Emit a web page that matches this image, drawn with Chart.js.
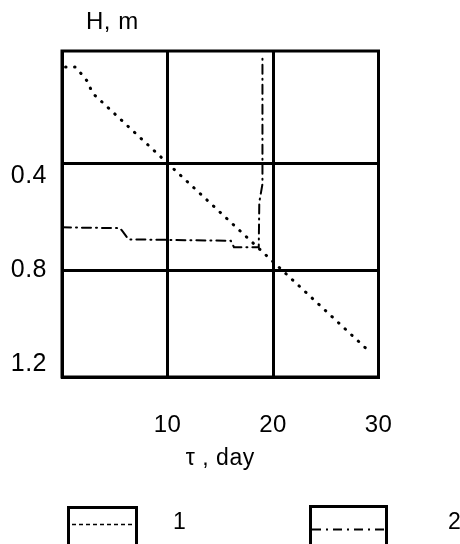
<!DOCTYPE html>
<html>
<head>
<meta charset="utf-8">
<script src="https://cdn.jsdelivr.net/npm/chart.js@4.4.1/dist/chart.umd.min.js"></script>
<style>
html,body{margin:0;padding:0;background:#fff;}
#wrap{position:relative;width:460px;height:544px;overflow:hidden;font-family:"Liberation Sans",Arial,sans-serif;color:#000;}
#c{position:absolute;left:0;top:0;}
.t{position:absolute;font-size:24px;line-height:24px;white-space:nowrap;letter-spacing:0.5px;}
.box{position:absolute;border:3px solid #000;border-bottom:none;height:60px;box-sizing:border-box;}
.box svg{position:absolute;left:0;top:0;}
</style>
</head>
<body>
<div id="wrap">
<canvas id="c" width="460" height="544"></canvas>
<div class="t" id="ytitle" style="left:86px;top:9px;">H, m</div>
<div class="box" style="left:67px;top:506px;width:71px;">
  <svg width="65" height="40"><line x1="2" y1="15.5" x2="64" y2="15.5" stroke="#000" stroke-width="1.6" stroke-dasharray="4 3"/></svg>
</div>
<div class="t" style="left:173px;top:509px;font-size:23px;">1</div>
<div class="box" style="left:309px;top:505px;width:79px;">
  <svg width="73" height="40"><line x1="0" y1="21.5" x2="73" y2="21.5" stroke="#000" stroke-width="2" stroke-dasharray="9 5 2 5"/></svg>
</div>
<div class="t" style="left:448px;top:509px;font-size:23px;">2</div>
</div>
<script>
// Series 1 (dotted): time (day) vs depth H (m)
const days1  = [0, 0.3, 1.3, 2.4, 2.9, 9.6, 19.5, 29.2];
const depth1 = [0.01, 0.04, 0.04, 0.093, 0.138, 0.385, 0.75, 1.107];
// Series 2 (dash-dot)
const days2  = [0, 5.5, 5.8, 6.3, 16.0, 16.3, 18.65, 18.7, 19.0, 19.0];
const depth2 = [0.64, 0.643, 0.658, 0.685, 0.69, 0.714, 0.714, 0.546, 0.478, 0.004];
// Tick labels
const xTicks = [10, 20, 30];
const yTicks = [0.4, 0.8, 1.2];
const seriesNames = ['1', '2'];

const toPts = (xs, ys) => xs.map((x, i) => ({x: x, y: ys[i]}));

const frame = {
  id: 'frame',
  beforeDraw(chart) {
    try { chart.ctx.letterSpacing = '0.5px'; } catch (e) {}
  },
  afterDraw(chart) {
    const {ctx, chartArea: a} = chart;
    ctx.save();
    ctx.strokeStyle = '#000';
    ctx.lineWidth = 3;
    ctx.strokeRect(a.left, a.top, a.right - a.left, a.bottom - a.top);
    ctx.restore();
  }
};

// y labels in the original sit below (0.4) / above (1.2) their grid lines
const yLabel = v => {
  const s = v.toFixed(1);
  if (v === yTicks[0]) return ['', s];
  if (v === yTicks[yTicks.length - 1]) return [s, ''];
  return s;
};

new Chart(document.getElementById('c'), {
  type: 'scatter',
  data: {
    datasets: [
      {label: seriesNames[0], data: toPts(days1, depth1), showLine: true,
       borderColor: '#000', borderWidth: 3, borderDash: [0.5, 8.5], borderCapStyle: 'round',
       pointRadius: 0, tension: 0, fill: false},
      {label: seriesNames[1], data: toPts(days2, depth2), showLine: true,
       borderColor: '#000', borderWidth: 2, borderDash: [9, 5, 1, 5], borderCapStyle: 'round',
       pointRadius: 0, tension: 0, fill: false}
    ]
  },
  options: {
    responsive: false,
    devicePixelRatio: 1,
    animation: false,
    layout: {padding: {left: 0, top: 51, right: 81.5, bottom: 0}},
    plugins: {legend: {display: false}, tooltip: {enabled: false}},
    scales: {
      x: {
        type: 'linear', min: 0, max: 30,
        afterBuildTicks: s => { s.ticks = xTicks.map(v => ({value: v})); },
        afterFit: s => { s.height = 167; },
        grid: {color: '#000', lineWidth: 3, drawTicks: false},
        border: {display: true, color: '#000', width: 3},
        ticks: {color: '#000', padding: 34, maxRotation: 0,
                font: {family: 'Liberation Sans', size: 24}},
        title: {display: true, text: 'τ , day', color: '#000',
                font: {family: 'Liberation Sans', size: 23},
                padding: {top: 0, bottom: 72}}
      },
      y: {
        type: 'linear', min: -0.02, max: 1.2, reverse: true,
        afterBuildTicks: s => { s.ticks = yTicks.map(v => ({value: v})); },
        afterFit: s => { s.width = 62; },
        grid: {color: '#000', lineWidth: 3, drawTicks: false},
        border: {display: true, color: '#000', width: 3},
        ticks: {color: '#000', padding: 15,
                callback: yLabel,
                font: {family: 'Liberation Sans', size: 25, lineHeight: 1.0}}
      }
    }
  },
  plugins: [frame]
});
</script>
</body>
</html>
